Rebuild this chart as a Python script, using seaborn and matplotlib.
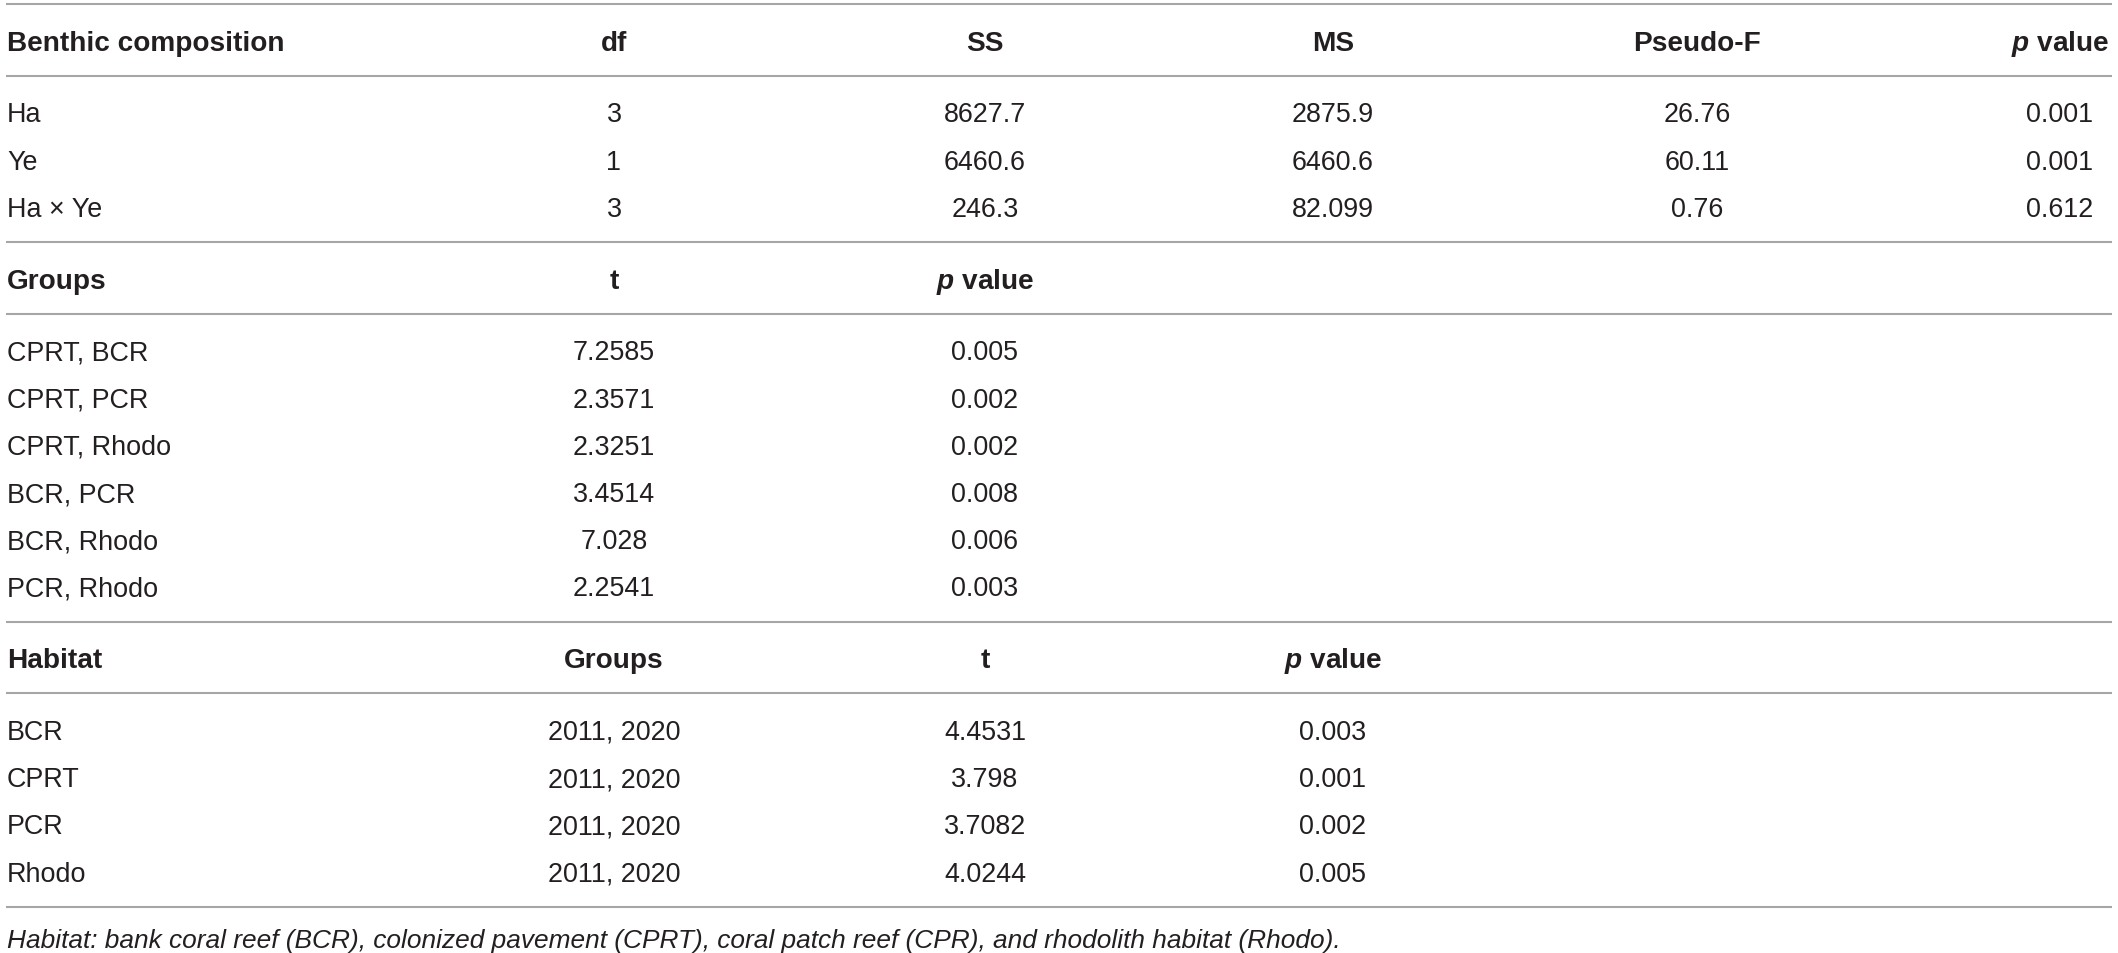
import matplotlib
matplotlib.use("Agg")
import matplotlib.pyplot as plt
import seaborn as sns

# ---------------- data ----------------
main_header = ["Benthic composition", "df", "SS", "MS", "Pseudo-F", "$\\mathit{p}$ value"]
main_terms = ["Ha", "Ye", "Ha × Ye"]
main_df = [3, 1, 3]
main_ss = [8627.7, 6460.6, 246.3]
main_ms = [2875.9, 6460.6, 82.099]
main_pseudo_f = [26.76, 60.11, 0.76]
main_p = [0.001, 0.001, 0.612]

pair_header = ["Groups", "t", "$\\mathit{p}$ value"]
pair_groups = ["CPRT, BCR", "CPRT, PCR", "CPRT, Rhodo", "BCR, PCR", "BCR, Rhodo", "PCR, Rhodo"]
pair_t = [7.2585, 2.3571, 2.3251, 3.4514, 7.028, 2.2541]
pair_p = [0.005, 0.002, 0.002, 0.008, 0.006, 0.003]

hab_header = ["Habitat", "Groups", "t", "$\\mathit{p}$ value"]
hab_names = ["BCR", "CPRT", "PCR", "Rhodo"]
hab_groups = ["2011, 2020", "2011, 2020", "2011, 2020", "2011, 2020"]
hab_t = [4.4531, 3.798, 3.7082, 4.0244]
hab_p = [0.003, 0.001, 0.002, 0.005]

footnote = ("Habitat: bank coral reef (BCR), colonized pavement (CPRT), "
            "coral patch reef (CPR), and rhodolith habitat (Rhodo).")

# ---------------- style ----------------
sns.set_theme(style="white")
plt.rcParams["font.family"] = ["Liberation Sans", "DejaVu Sans"]
plt.rcParams["mathtext.fontset"] = "custom"
plt.rcParams["mathtext.it"] = "Liberation Sans:bold:italic"
plt.rcParams["mathtext.rm"] = "Liberation Sans:bold"
plt.rcParams["mathtext.bf"] = "Liberation Sans:bold"

W, H = 2118, 954
fig = plt.figure(figsize=(W / 100, H / 100), dpi=100)
ax = fig.add_axes([0, 0, 1, 1])
ax.set_xlim(0, W)
ax.set_ylim(H, 0)
ax.axis("off")

TXT = "#231f20"
LINE = "#a6a6a6"
REG = 19.4
BOLD = 20.2
FOOT = 18.9
LEFT = 7
COLS = [614, 985, 1333, 1697, 2060]
X0, X1 = 6, 2112
ROW = 47.2
HEAD_HALF = 35.8
PAD = 36.0
BASE = 9.8  # baseline offset below visual centre


def hline(y):
    ax.plot([X0, X1], [y, y], color=LINE, lw=1.5, solid_capstyle="butt")


def cell(x, y, s, bold=False, ha="center", style="normal", size=None):
    ax.text(x, y + BASE, s, ha=ha, va="baseline", color=TXT,
            fontsize=size if size else (BOLD if bold else REG),
            fontweight="bold" if bold else "normal", fontstyle=style)


def header(y_line, labels):
    yc = y_line + HEAD_HALF
    cell(LEFT, yc, labels[0], bold=True, ha="left")
    for x, lab in zip(COLS, labels[1:]):
        cell(x, yc, lab, bold=True)
    y_next = y_line + 2 * HEAD_HALF
    hline(y_next)
    return y_next


def body(y_line, first, columns):
    y = y_line + PAD
    for i, name in enumerate(first):
        yc = y + i * ROW
        cell(LEFT, yc, name, ha="left")
        for x, col in zip(COLS, columns):
            cell(x, yc, str(col[i]))
    y_end = y + (len(first) - 1) * ROW + PAD
    hline(y_end)
    return y_end


y = 5
hline(y)
y = header(y, main_header)
y = body(y, main_terms, [main_df, main_ss, main_ms, main_pseudo_f, main_p])
y = header(y, pair_header)
y = body(y, pair_groups, [pair_t, pair_p])
y = header(y, hab_header)
y = body(y, hab_names, [hab_groups, hab_t, hab_p])

ax.text(LEFT, y + 30 + BASE, footnote, ha="left", va="baseline", color=TXT,
        fontsize=FOOT, fontstyle="italic")

fig.savefig("out.png", dpi=100, facecolor="white")
